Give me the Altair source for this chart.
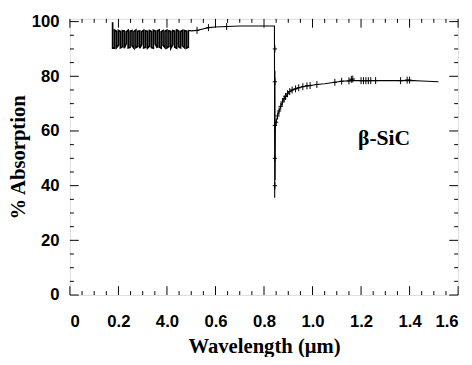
import altair as alt
import pandas as pd

# ---- data ----
noise_x = [0.176, 0.184, 0.192, 0.200, 0.208, 0.216, 0.224, 0.232, 0.240, 0.248,
           0.256, 0.264, 0.272, 0.280, 0.288, 0.296, 0.304, 0.312, 0.320, 0.328,
           0.336, 0.344, 0.352, 0.360, 0.368, 0.376, 0.384, 0.392, 0.400, 0.408,
           0.416, 0.424, 0.432, 0.440, 0.448, 0.456, 0.464, 0.472, 0.480, 0.488]
noise_hi = [99.8, 96.9, 96.5, 96.8, 96.4, 96.7, 96.6, 96.3, 96.8, 96.5,
            96.7, 96.4, 96.9, 96.5, 96.6, 96.3, 96.8, 96.6, 96.5, 96.7,
            96.4, 96.8, 96.5, 96.6, 96.9, 96.3, 96.7, 96.5, 96.8, 96.6,
            96.4, 96.7, 96.5, 96.9, 96.6, 96.4, 96.8, 96.7, 96.5, 96.8]
noise_lo = [90.3, 90.3, 90.5, 91.4, 90.4, 90.8, 90.3, 92.0, 90.4, 90.6,
            91.2, 90.3, 90.5, 90.9, 90.3, 91.6, 90.4, 90.6, 90.3, 91.0,
            90.5, 90.3, 91.8, 90.4, 90.7, 90.3, 91.3, 90.5, 90.4, 90.9,
            90.3, 91.5, 90.6, 90.3, 90.8, 90.4, 91.1, 90.5, 90.3, 90.6]

main_x = [0.500, 0.524, 0.548, 0.571, 0.600, 0.646, 0.700, 0.780, 0.843,
          0.844, 0.845, 0.846, 0.847, 0.850, 0.856, 0.862, 0.869, 0.876,
          0.883, 0.889, 0.897, 0.906, 0.916, 0.930, 0.943, 0.960, 0.977,
          0.990, 1.018, 1.050, 1.092, 1.120, 1.166, 1.214, 1.275, 1.363,
          1.397, 1.450, 1.519]
main_y = [96.6, 96.8, 97.3, 97.8, 98.0, 98.2, 98.4, 98.4, 98.4,
          35.6, 82.0, 42.0, 61.8, 63.2, 65.5, 67.3, 69.0, 70.6,
          71.8, 72.6, 73.6, 74.4, 75.0, 75.4, 75.8, 76.2, 76.5,
          76.6, 77.0, 77.3, 77.8, 78.2, 78.4, 78.4, 78.4, 78.4,
          78.5, 78.3, 78.0]

marker_x = [0.524, 0.571, 0.646, 0.845, 0.845, 0.845, 0.845, 0.845, 0.850,
            0.856, 0.862, 0.869, 0.876, 0.883, 0.889, 0.897, 0.906, 0.916,
            0.930, 0.943, 0.960, 0.977, 0.990, 1.018, 1.092, 1.120, 1.150,
            1.160, 1.166, 1.200, 1.210, 1.220, 1.230, 1.240, 1.260, 1.363,
            1.390, 1.400]
marker_y = [96.8, 97.8, 98.2, 90.0, 78.0, 62.0, 50.0, 40.0, 63.2,
            65.5, 67.3, 69.0, 70.6, 71.8, 72.6, 73.6, 74.4, 75.0,
            75.4, 75.8, 76.2, 76.5, 76.6, 77.0, 77.8, 78.2, 78.3,
            78.9, 79.0, 78.4, 78.4, 78.4, 78.4, 78.4, 78.4, 78.4,
            78.6, 78.6]

x_major = [0.0, 0.2, 0.4, 0.6, 0.8, 1.0, 1.2, 1.4, 1.6]
x_labels = ["0", "0.2", "4.0", "0.6", "0.8", "1.0", "1.2", "1.4", "1.6"]
x_minor = [0.05 * i for i in range(33) if i % 4 != 0]
y_major = [0, 20, 40, 60, 80, 100]
y_minor = [v for v in range(0, 101, 5) if v % 20 != 0]

label_text = "β-SiC"
label_pos = (1.295, 57.3)

W, H = 395, 281

xs = alt.Scale(domain=[0, 1.6], nice=False, zero=False)
ys = alt.Scale(domain=[0, 101], nice=False, zero=False)

# noise band drawn as a square wave of vertical strokes
px, py = [], []
for i, (xv, hi, lo) in enumerate(zip(noise_x, noise_hi, noise_lo)):
    if i % 2 == 0:
        px += [xv, xv]; py += [hi, lo]
    else:
        px += [xv, xv]; py += [lo, hi]

noise = pd.DataFrame({"x": px, "y": py})
noise["i"] = range(len(noise))
main = pd.DataFrame({"x": [noise_x[-1]] + main_x, "y": [noise_hi[-1]] + main_y})
main["i"] = range(len(main))
markers = pd.DataFrame({"x": marker_x, "y": marker_y})

label_expr = "[" + ",".join("'%s'" % s for s in x_labels) + "][round(datum.value*5)]"

x_axis = alt.Axis(values=x_major, labelExpr=label_expr, ticks=False, domain=False,
                  grid=False, labelFont="Liberation Sans", labelFontWeight="bold",
                  labelFontSize=17, labelColor="black", labelPadding=19,
                  title="Wavelength (μm)", titleFont="Liberation Serif",
                  titleFontWeight="bold", titleFontSize=21, titleColor="black",
                  titlePadding=6)
y_axis = alt.Axis(values=y_major, ticks=False, domain=False, grid=False,
                  labelFont="Liberation Sans", labelFontWeight="bold",
                  labelFontSize=17, labelColor="black", labelPadding=11,
                  title="% Absorption", titleFont="Liberation Serif",
                  titleFontWeight="bold", titleFontSize=21, titleColor="black",
                  titlePadding=3)

noise_line = alt.Chart(noise).mark_line(color="black", strokeWidth=1.7).encode(
    x=alt.X("x:Q", scale=xs, axis=x_axis),
    y=alt.Y("y:Q", scale=ys, axis=y_axis),
    order="i:Q",
)
line = alt.Chart(main).mark_line(color="black", strokeWidth=1.1).encode(
    x=alt.X("x:Q", scale=xs),
    y=alt.Y("y:Q", scale=ys),
    order="i:Q",
)
pts = alt.Chart(markers).mark_point(
    shape="M0,-1.3L0,1.3M-0.8,0L0.8,0", size=30, color="black",
    filled=False, strokeWidth=1, opacity=1).encode(
    x=alt.X("x:Q", scale=xs), y=alt.Y("y:Q", scale=ys))

text = alt.Chart(pd.DataFrame({"x": [label_pos[0]], "y": [label_pos[1]], "t": [label_text]})).mark_text(
    font="Liberation Serif", fontWeight="bold", fontSize=22, color="black"
).encode(x=alt.X("x:Q", scale=xs), y=alt.Y("y:Q", scale=ys), text="t:N")


def xticks(vals, length):
    df = pd.DataFrame({"x": vals})
    b = alt.Chart(df).mark_rule(color="black", strokeWidth=1).encode(
        x=alt.X("x:Q", scale=xs), y=alt.value(H), y2=alt.value(H - length))
    t = alt.Chart(df).mark_rule(color="black", strokeWidth=1).encode(
        x=alt.X("x:Q", scale=xs), y=alt.value(0), y2=alt.value(length))
    return [b, t]


def yticks(vals, length):
    df = pd.DataFrame({"y": vals})
    l = alt.Chart(df).mark_rule(color="black", strokeWidth=1).encode(
        y=alt.Y("y:Q", scale=ys), x=alt.value(0), x2=alt.value(length))
    r = alt.Chart(df).mark_rule(color="black", strokeWidth=1).encode(
        y=alt.Y("y:Q", scale=ys), x=alt.value(W), x2=alt.value(W - length))
    return [l, r]


layers = [noise_line, line, pts, text] + xticks(x_major, 9) + xticks(x_minor, 4) + yticks(y_major, 9) + yticks(y_minor, 4)

chart = alt.layer(*layers).properties(
    width=W, height=H,
    autosize=alt.AutoSizeParams(type="none"),
    padding={"left": 63, "top": 8, "right": 6, "bottom": 60},
).configure_view(stroke="black", strokeWidth=1.5).configure(background="white")

chart.save("out.html", embed_options={"renderer": "svg", "actions": False})
